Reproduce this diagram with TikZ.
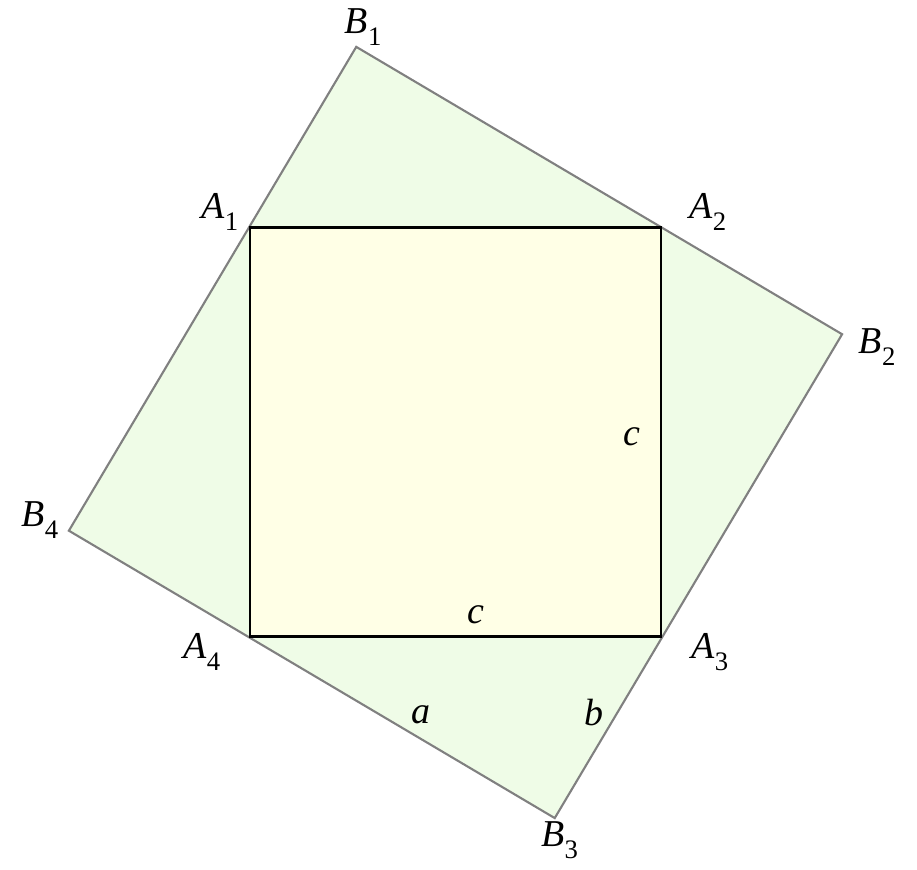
\documentclass[tikz,border=0pt]{standalone}
\usepackage{fontspec}
\setmainfont{Liberation Serif}
\usepackage{tikz}

\definecolor{outgreen}{RGB}{239,252,231}
\definecolor{inyellow}{RGB}{255,255,230}
\newcommand{\vlab}[2]{\textit{#1}\raisebox{-3.4pt}{\fontsize{7.6}{8}\selectfont #2}}

\tikzset{
  lbl/.style={inner sep=0pt, font=\fontsize{10.8}{13}\selectfont},
  outsq/.style={draw=gray, fill=outgreen, line width=0.6pt, line join=miter},
  insq/.style={draw=black, fill=inyellow, line width=0.85pt}
}

\begin{document}
\begin{tikzpicture}
    \useasboundingbox (0,0) rectangle (9.17,8.70);

    % Inner square A1 A2 A3 A4
    \coordinate (A1) at (2.50,6.42);
    \coordinate (A2) at (6.61,6.42);
    \coordinate (A3) at (6.61,2.33);
    \coordinate (A4) at (2.50,2.33);

    % Outer square: B_i = A_i + b at a tilt of 30.4 degrees
    \path (A1) ++(59.6:2.1) coordinate (B1);
    \path (A2) ++(-30.4:2.1) coordinate (B2);
    \path (A3) ++(-120.4:2.1) coordinate (B3);
    \path (A4) ++(149.6:2.1) coordinate (B4);

    \draw[outsq] (B1) -- (B2) -- (B3) -- (B4) -- cycle;
    \draw[insq] (A1) -- (A2) -- (A3) -- (A4) -- cycle;

    % Vertex labels
    \node[lbl] (tB1) at ([shift={(0.07,0.20)}]B1) {\vlab{B}{1}};
    \node[lbl] (tB2) at ([shift={(0.35,-0.13)}]B2) {\vlab{B}{2}};
    \node[lbl] (tB3) at ([shift={(0.05,-0.22)}]B3) {\vlab{B}{3}};
    \node[lbl] (tB4) at ([shift={(-0.29,0.11)}]B4) {\vlab{B}{4}};
    \node[lbl] (tA1) at ([shift={(-0.30,0.16)}]A1) {\vlab{A}{1}};
    \node[lbl] (tA2) at ([shift={(0.47,0.16)}]A2) {\vlab{A}{2}};
    \node[lbl] (tA3) at ([shift={(0.49,-0.15)}]A3) {\vlab{A}{3}};
    \node[lbl] (tA4) at ([shift={(-0.48,-0.15)}]A4) {\vlab{A}{4}};

    % Side labels
    \node[lbl] (sc1) at (6.32,4.33) {\textit{c}};
    \node[lbl] (sc2) at (4.76,2.55) {\textit{c}};
    \node[lbl] (sa) at (4.21,1.55) {\textit{a}};
    \node[lbl] (sb) at (5.94,1.57) {\textit{b}};
\end{tikzpicture}
\end{document}
